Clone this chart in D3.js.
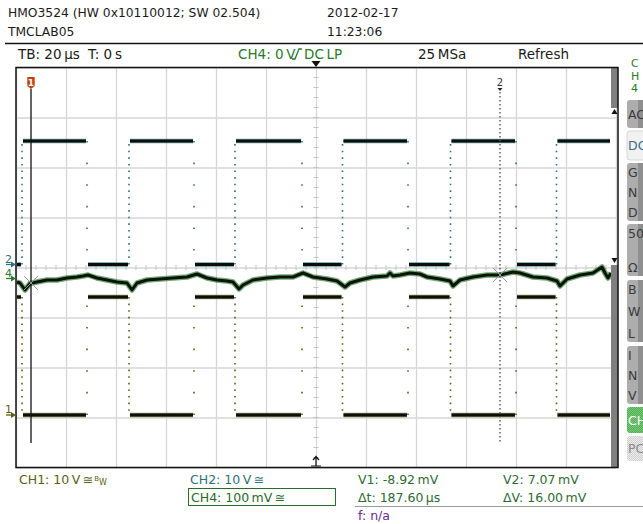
<!DOCTYPE html>
<html>
<head>
<meta charset="utf-8">
<script src="https://cdn.jsdelivr.net/npm/d3@7"></script>
<style>
html, body { margin: 0; padding: 0; background: #fff; }
svg { display: block; font-family: "DejaVu Sans", sans-serif; }
</style>
</head>
<body>
<svg id="scope" width="643" height="524"></svg>
<script>
// Scope screenshot (HMO3524) redrawn with d3.
// CH1 / CH2: square waves, 10 V/div. CH4: ripple, 100 mV/div. TB 20 us/div.

//// DATA ///////////////////////////////////////////////////////////////////////

// edge times in us (shared by CH1 and CH2)
var edgeTimes = [-117.6, -91.6, -74.8, -48.8, -32.4, -5.6, 10.6, 36.8, 53.8, 80.0, 96.2];

// levels in V between the edges (one more than edges)
var ch2Levels = [0, 24.7, 0, 24.7, 0, 24.7, 0, 24.7, 0, 24.7, 0, 24.7];
var ch1Levels = [23.6, 0, 23.6, 0, 23.6, 0, 23.6, 0, 23.6, 0, 23.6, 0];

// CH4 ripple, time in us and value in mV
var ch4Time = [-119.6, -118.4, -116.4, -114.4, -111.6, -107.6, -103.6, -99.6, -95.6, -93.2,
  -91.2, -87.6, -83.6, -79.6, -75.6, -73.6, -71.6, -67.6, -62.4, -57.2,
  -51.6, -47.6, -43.6, -39.6, -35.6, -33.2, -30.8, -29.2, -25.2, -19.6,
  -14.4, -9.2, -5.2, -1.2, 4.4, 8.4, 11.6, 13.6, 17.6, 22.8,
  28.4, 29.6, 30.8, 33.6, 37.6, 41.6, 44.4, 49.6, 53.6, 54.8,
  57.6, 62.8, 68.4, 73.6, 78.8, 81.6, 86.8, 92.4, 96.4, 97.6,
  100.4, 105.6, 110.8, 114.4, 115.6, 116.8, 118];
var ch4mV = [-7, -9, -23, -10, -7, -3, -3, 1, 3, 5,
  7, 1, -3, -7, -9, -23, -9, -3, -1, 1,
  3, 9, 1, -3, -5, -7, -21, -13, -3, 1,
  3, 3, 11, 3, -1, -5, -17, -9, -3, 3,
  5, 11, 5, 7, 11, 9, 3, -1, -5, -15,
  -3, 3, 7, 7, 13, 11, 3, 1, -5, -15,
  -1, 7, 11, 23, 11, 1, 11];

// cursors (us)
var cursorTimes = [-114, 73.6];

var headerLines = ["HMO3524 (HW 0x10110012; SW 02.504)", "TMCLAB05"];
var stampLines = ["2012-02-17", "11:23:06"];

var softkeys = [
	{ lines: ["AC"], y0: 100, y1: 128, kind: "gray" },
	{ lines: ["DC"], y0: 131, y1: 160, kind: "light" },
	{ lines: ["G", "N", "D"], y0: 163, y1: 221, kind: "gray" },
	{ lines: ["50", "Ω"], y0: 224, y1: 276, kind: "gray" },
	{ lines: ["B", "W", "L"], y0: 280, y1: 342, kind: "gray" },
	{ lines: ["I", "N", "V"], y0: 346, y1: 404, kind: "gray" },
	{ lines: ["CH"], y0: 407, y1: 433, kind: "green" },
	{ lines: ["PC"], y0: 436, y1: 461, kind: "hatch" }
];


//// SETTINGS ///////////////////////////////////////////////////////////////////

var plot = { left: 16, right: 616, top: 67.5, bottom: 467.5 };
var tStart = -120, tEnd = 118;

var col = {
	ch1: "#5e5e14",
	ch2: "#2f7178",
	ch4: "#2a7a2a",
	grid: "#d6d6d6",
	text: "#1a1a1a",
	meas: "#2f6a36",
	freq: "#6a2a84"
};

var x = d3.scaleLinear().domain([-120, 120]).range([plot.left, plot.right]);
var yDiv = d3.scaleLinear().domain([-4, 4]).range([plot.bottom, plot.top]);
var yCh1 = d3.scaleLinear().domain([0, 10]).range([415, 365]);
var yCh2 = d3.scaleLinear().domain([0, 10]).range([264.5, 214.5]);
var yCh4 = d3.scaleLinear().domain([0, 100]).range([278.5, 228.5]);

var svg = d3.select("#scope");

svg.append("rect").attr("width", 643).attr("height", 524).attr("fill", "#fff");

var defs = svg.append("defs");
function checker(id, a, b) {
	var p = defs.append("pattern").attr("id", id).attr("width", 2).attr("height", 2)
		.attr("patternUnits", "userSpaceOnUse");
	p.append("rect").attr("width", 2).attr("height", 2).attr("fill", a);
	p.append("rect").attr("width", 1).attr("height", 1).attr("fill", b);
	p.append("rect").attr("x", 1).attr("y", 1).attr("width", 1).attr("height", 1).attr("fill", b);
}
checker("chk-green", "#4fae4f", "#7cc87c");
checker("chk-gray", "#cfcfcf", "#ececec");


//// HEADER /////////////////////////////////////////////////////////////////////

svg.selectAll("text.hdr").data(headerLines).enter().append("text")
	.attr("class", "hdr")
	.attr("x", 8).attr("y", function(d, i) { return 17 + i * 18.5; })
	.style("font-size", "12.3px").attr("fill", col.text)
	.text(function(d) { return d; });

svg.selectAll("text.stamp").data(stampLines).enter().append("text")
	.attr("class", "stamp")
	.attr("x", 327).attr("y", function(d, i) { return 17 + i * 18.5; })
	.style("font-size", "12.3px").attr("fill", col.text)
	.text(function(d) { return d; });

svg.append("line").attr("x1", 5).attr("x2", 643).attr("y1", 43.5).attr("y2", 43.5)
	.attr("stroke", "#111").attr("stroke-width", 1.4);

var statusRow = svg.append("g").style("font-size", "13.5px").attr("fill", col.text);
statusRow.append("text").attr("x", 18).attr("y", 59).text("TB: 20\u2009µs");
statusRow.append("text").attr("x", 88).attr("y", 59).text("T: 0\u2009s");
statusRow.append("text").attr("x", 418).attr("y", 59).text("25\u2009MSa");
statusRow.append("text").attr("x", 518).attr("y", 59).text("Refresh");
statusRow.append("text").attr("x", 238).attr("y", 59).attr("fill", col.ch4).text("CH4: 0\u2009V");
statusRow.append("path").attr("d", "M292,59 L295,59 L299,49 L302,49")
	.attr("fill", "none").attr("stroke", col.ch4).attr("stroke-width", 1.3);
statusRow.append("text").attr("x", 304).attr("y", 59).attr("fill", col.ch4).text("DC\u2009LP");

svg.selectAll("text.ch4v").data(["C", "H", "4"]).enter().append("text")
	.attr("class", "ch4v")
	.attr("x", 631).attr("y", function(d, i) { return 67 + i * 12.5; })
	.style("font-size", "11px").attr("fill", col.ch4)
	.text(function(d) { return d; });


//// GRID ///////////////////////////////////////////////////////////////////////

var grid = svg.append("g");

grid.append("g")
	.attr("transform", "translate(0," + plot.bottom + ")")
	.call(d3.axisBottom(x).ticks(12).tickSize(-(plot.bottom - plot.top)).tickFormat(""))
	.call(function(g) {
		g.select(".domain").remove();
		g.selectAll("line").attr("stroke", col.grid).attr("stroke-width", 1.3);
	});

grid.append("g")
	.attr("transform", "translate(" + plot.left + ",0)")
	.call(d3.axisLeft(yDiv).ticks(8).tickSize(-(plot.right - plot.left)).tickFormat(""))
	.call(function(g) {
		g.select(".domain").remove();
		g.selectAll("line").attr("stroke", col.grid).attr("stroke-width", 1.3);
	});

// minor ticks on the centre cross
var minorX = d3.range(-120, 121, 4);
var minorY = d3.range(-4, 4.01, 0.2);
grid.selectAll("line.mx").data(minorX).enter().append("line")
	.attr("x1", function(d) { return x(d); }).attr("x2", function(d) { return x(d); })
	.attr("y1", yDiv(0) - 2.5).attr("y2", yDiv(0) + 2.5)
	.attr("stroke", "#c4c4c4").attr("stroke-width", 1);
grid.selectAll("line.my").data(minorY).enter().append("line")
	.attr("y1", function(d) { return yDiv(d); }).attr("y2", function(d) { return yDiv(d); })
	.attr("x1", x(0) - 2.5).attr("x2", x(0) + 2.5)
	.attr("stroke", "#c4c4c4").attr("stroke-width", 1);


//// TRACES /////////////////////////////////////////////////////////////////////

function segments(levels) {
	return levels.map(function(v, i) {
		return {
			t0: i === 0 ? tStart : edgeTimes[i - 1],
			t1: i === edgeTimes.length ? tEnd : edgeTimes[i],
			v: v
		};
	});
}

function edges(levels) {
	return edgeTimes.map(function(t, i) {
		return { t: t, a: levels[i], b: levels[i + 1] };
	});
}

function drawSquare(levels, y, color, denseWhenRising) {
	var g = svg.append("g");
	g.selectAll("line.edge").data(edges(levels)).enter().append("line")
		.attr("x1", function(d) { return x(d.t); }).attr("x2", function(d) { return x(d.t); })
		.attr("y1", function(d) { return y(d.a); }).attr("y2", function(d) { return y(d.b); })
		.attr("stroke", color).attr("stroke-width", 1.6)
		.attr("stroke-dasharray", function(d) {
			var rising = d.b > d.a;
			return rising === denseWhenRising ? "1.6 5" : "1.6 20";
		});
	var segs = segments(levels);
	g.selectAll("line.halo").data(segs).enter().append("line")
		.attr("x1", function(d) { return x(d.t0) + 1; }).attr("x2", function(d) { return x(d.t1) - 1; })
		.attr("y1", function(d) { return y(d.v); }).attr("y2", function(d) { return y(d.v); })
		.attr("stroke", color).attr("stroke-width", 4.4).attr("opacity", 0.7);
	g.selectAll("line.core").data(segs).enter().append("line")
		.attr("x1", function(d) { return x(d.t0) + 1; }).attr("x2", function(d) { return x(d.t1) - 1; })
		.attr("y1", function(d) { return y(d.v); }).attr("y2", function(d) { return y(d.v); })
		.attr("stroke", "#0b0f0b").attr("stroke-width", 3);
}

drawSquare(ch2Levels, yCh2, col.ch2, true);
drawSquare(ch1Levels, yCh1, col.ch1, false);

var ch4Points = ch4Time.map(function(t, i) { return [t, ch4mV[i]]; });
var ch4Line = d3.line().x(function(d) { return x(d[0]); }).y(function(d) { return yCh4(d[1]); });

svg.append("path").datum(ch4Points).attr("d", ch4Line)
	.attr("fill", "none").attr("stroke", col.ch4).attr("stroke-width", 5.5).attr("opacity", 0.65)
	.attr("stroke-linejoin", "round");
svg.append("path").datum(ch4Points).attr("d", ch4Line)
	.attr("fill", "none").attr("stroke", "#0a140a").attr("stroke-width", 3)
	.attr("stroke-linejoin", "round");


//// CURSORS ////////////////////////////////////////////////////////////////////

var c1 = x(cursorTimes[0]), c2 = x(cursorTimes[1]);

svg.append("line").attr("x1", c1).attr("x2", c1).attr("y1", 89).attr("y2", 443)
	.attr("stroke", "#111").attr("stroke-width", 1.3);
svg.append("path")
	.attr("d", "M" + (c1 - 3.7) + ",77 h7.4 v9 l-3.7,3 l-3.7,-3 z")
	.attr("fill", "#c4400c");
svg.append("text").attr("x", c1).attr("y", 85.5).attr("text-anchor", "middle")
	.style("font-size", "9px").style("font-weight", "bold").attr("fill", "#fff").text("1");

svg.append("line").attr("x1", c2).attr("x2", c2).attr("y1", 92).attr("y2", 443)
	.attr("stroke", "#555").attr("stroke-width", 1.4).attr("stroke-dasharray", "1.4 2.6");
svg.append("text").attr("x", c2).attr("y", 86).attr("text-anchor", "middle")
	.style("font-size", "10px").attr("fill", "#333").text("2");
svg.append("path").attr("d", "M" + (c2 - 2.5) + ",88 h5 l-2.5,3 z").attr("fill", "#222");

// cursor crosses on CH4
[[c1, yCh4(-8.92)], [c2, yCh4(7.07)]].forEach(function(p) {
	svg.append("path")
		.attr("d", "M" + (p[0] - 7) + "," + (p[1] - 7) + " L" + (p[0] + 7) + "," + (p[1] + 7) +
			" M" + (p[0] - 7) + "," + (p[1] + 7) + " L" + (p[0] + 7) + "," + (p[1] - 7))
		.attr("stroke", "#9a9a9a").attr("stroke-width", 1).attr("fill", "none");
});


//// FRAME //////////////////////////////////////////////////////////////////////

// scroll strip for CH4 offset
svg.append("rect").attr("x", 611).attr("y", plot.top).attr("width", 7).attr("height", 108 - plot.top)
	.attr("fill", "#7f7f7f");
svg.append("rect").attr("x", 611).attr("y", 265).attr("width", 7).attr("height", plot.bottom - 265)
	.attr("fill", "#7f7f7f");
svg.append("path").attr("d", "M611.5,114 l3,-5 l3,5 z").attr("fill", "#111");
svg.append("path").attr("d", "M611.5,258 l3,5 l3,-5 z").attr("fill", "#111");

svg.append("rect")
	.attr("x", plot.left).attr("y", plot.top)
	.attr("width", 602).attr("height", plot.bottom - plot.top)
	.attr("fill", "none").attr("stroke", "#111").attr("stroke-width", 1.5);

// trigger position markers
svg.append("path").attr("d", "M" + (x(0) - 4.5) + ",61 h9 l-4.5,6 z").attr("fill", "#111");
svg.append("path")
	.attr("d", "M" + (x(0) - 5) + ",466 h10 M" + x(0) + ",466 v-9 M" + (x(0) - 3) + ",460 l3,-3.5 l3,3.5")
	.attr("stroke", "#111").attr("stroke-width", 1.2).attr("fill", "none");

// channel ground markers
function groundMarker(label, yPos, color) {
	svg.append("text").attr("x", 5).attr("y", yPos - 2).style("font-size", "11px")
		.attr("fill", color).text(label);
	svg.append("path").attr("d", "M6," + yPos + " h6").attr("stroke", color).attr("stroke-width", 1.3);
	svg.append("path").attr("d", "M11," + (yPos - 3) + " l5,3 l-5,3 z").attr("fill", color);
}
groundMarker("2", yCh2(0), col.ch2);
groundMarker("4", yCh4(0), col.ch4);
groundMarker("1", yCh1(0), col.ch1);


//// SOFTKEYS ///////////////////////////////////////////////////////////////////

var keys = svg.append("g");
softkeys.forEach(function(k) {
	var fill = k.kind === "gray" ? "#adadad" : k.kind === "light" ? "#f1f1f1" :
		k.kind === "green" ? "url(#chk-green)" : "url(#chk-gray)";
	keys.append("rect").attr("x", 627).attr("y", k.y0).attr("width", 30).attr("height", k.y1 - k.y0)
		.attr("rx", 3).attr("fill", fill)
		.attr("stroke", k.kind === "light" ? "#d6d6d6" : "none");
	if (k.kind === "gray") {
		keys.append("rect").attr("x", 638).attr("y", k.y0).attr("width", 6).attr("height", k.y1 - k.y0)
			.attr("fill", "#8f8f8f");
	}
	var n = k.lines.length;
	var pad = n === 1 ? 0 : 9;
	k.lines.forEach(function(s, i) {
		var cy = n === 1 ? (k.y0 + k.y1) / 2 : k.y0 + pad + (k.y1 - k.y0 - 2 * pad) * i / (n - 1);
		keys.append("text").attr("x", 628).attr("y", cy + 4.5)
			.style("font-size", "12.5px")
			.attr("fill", k.kind === "light" ? "#3c6c8a" : k.kind === "green" ? "#fff" :
				k.kind === "hatch" ? "#8a8a8a" : "#3a3a3a")
			.text(s);
	});
});


//// FOOTER /////////////////////////////////////////////////////////////////////

var foot = svg.append("g").style("font-size", "12.5px");

var t1 = foot.append("text").attr("x", 19).attr("y", 483.5).attr("fill", col.ch1);
t1.append("tspan").text("CH1: 10\u2009V\u2009≅");
t1.append("tspan").attr("dx", 1).attr("dy", -3).style("font-size", "7px").text("B");
t1.append("tspan").attr("dy", 4).style("font-size", "8px").text("W");

foot.append("text").attr("x", 190).attr("y", 483.5).attr("fill", col.ch2).text("CH2: 10\u2009V\u2009≅");
foot.append("rect").attr("x", 188.5).attr("y", 488.5).attr("width", 147).attr("height", 17)
	.attr("fill", "none").attr("stroke", "#2a6a2a").attr("stroke-width", 1);
foot.append("text").attr("x", 191).attr("y", 501.5).attr("fill", "#2a6a2a").text("CH4: 100\u2009mV\u2009≅");

foot.append("text").attr("x", 358).attr("y", 483.5).attr("fill", col.meas).text("V1: -8.92\u2009mV");
foot.append("text").attr("x", 358).attr("y", 501.5).attr("fill", col.meas).text("Δt: 187.60\u2009µs");
foot.append("text").attr("x", 503).attr("y", 483.5).attr("fill", col.meas).text("V2: 7.07\u2009mV");
foot.append("text").attr("x", 503).attr("y", 501.5).attr("fill", col.meas).text("ΔV: 16.00\u2009mV");

foot.append("line").attr("x1", 355).attr("x2", 643).attr("y1", 506.5).attr("y2", 506.5)
	.attr("stroke", "#9a9a9a").attr("stroke-width", 1);
foot.append("text").attr("x", 358).attr("y", 520).attr("fill", col.freq).text("f: n/a");
</script>
</body>
</html>
